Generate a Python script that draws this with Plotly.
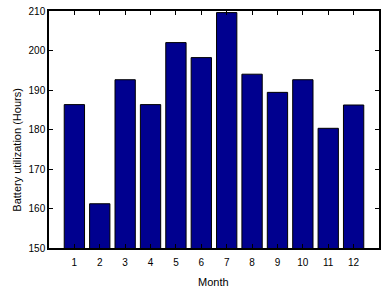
import plotly.graph_objects as go

months = [1, 2, 3, 4, 5, 6, 7, 8, 9, 10, 11, 12]
month_labels = [str(m) for m in months]
hours = [186.3, 161.2, 192.6, 186.3, 202.0, 198.2, 209.6, 194.0, 189.4, 192.6, 180.3, 186.2]
y_ticks = [150, 160, 170, 180, 190, 200, 210]

fig = go.Figure(go.Bar(
    x=months, y=hours, width=0.8,
    marker=dict(color="#00008F", line=dict(color="black", width=1)),
))

fig.update_layout(
    width=391, height=293,
    margin=dict(l=49, r=12, t=11, b=45),
    paper_bgcolor="white", plot_bgcolor="white",
    font=dict(family="Liberation Sans, Arial", size=10, color="black"),
    showlegend=False,
    annotations=[
        dict(text="Battery utilization (Hours)", xref="paper", yref="paper",
             x=-0.098, y=0.4135, textangle=-90, showarrow=False,
             xanchor="center", yanchor="middle", font=dict(size=11)),
        dict(text="Month", xref="paper", yref="paper",
             x=0.497, y=-0.142, showarrow=False,
             xanchor="center", yanchor="middle", font=dict(size=11)),
    ],
)
fig.update_xaxes(
    range=[0, 13], tickmode="array", tickvals=months, ticktext=month_labels,
    ticks="inside", ticklen=4, tickcolor="black", ticklabelstandoff=4,
    showline=True, linecolor="black", linewidth=1.5, mirror="ticks",
    showgrid=False, zeroline=False, automargin=False,
)
fig.update_yaxes(
    range=[150, 210], tickmode="array", tickvals=y_ticks,
    ticks="inside", ticklen=4, tickcolor="black",
    showline=True, linecolor="black", linewidth=1.5, mirror="ticks",
    showgrid=False, zeroline=False, automargin=False,
)

fig.write_html("out.html", config={"displayModeBar": False},
               post_script="document.body.style.margin='0';")
